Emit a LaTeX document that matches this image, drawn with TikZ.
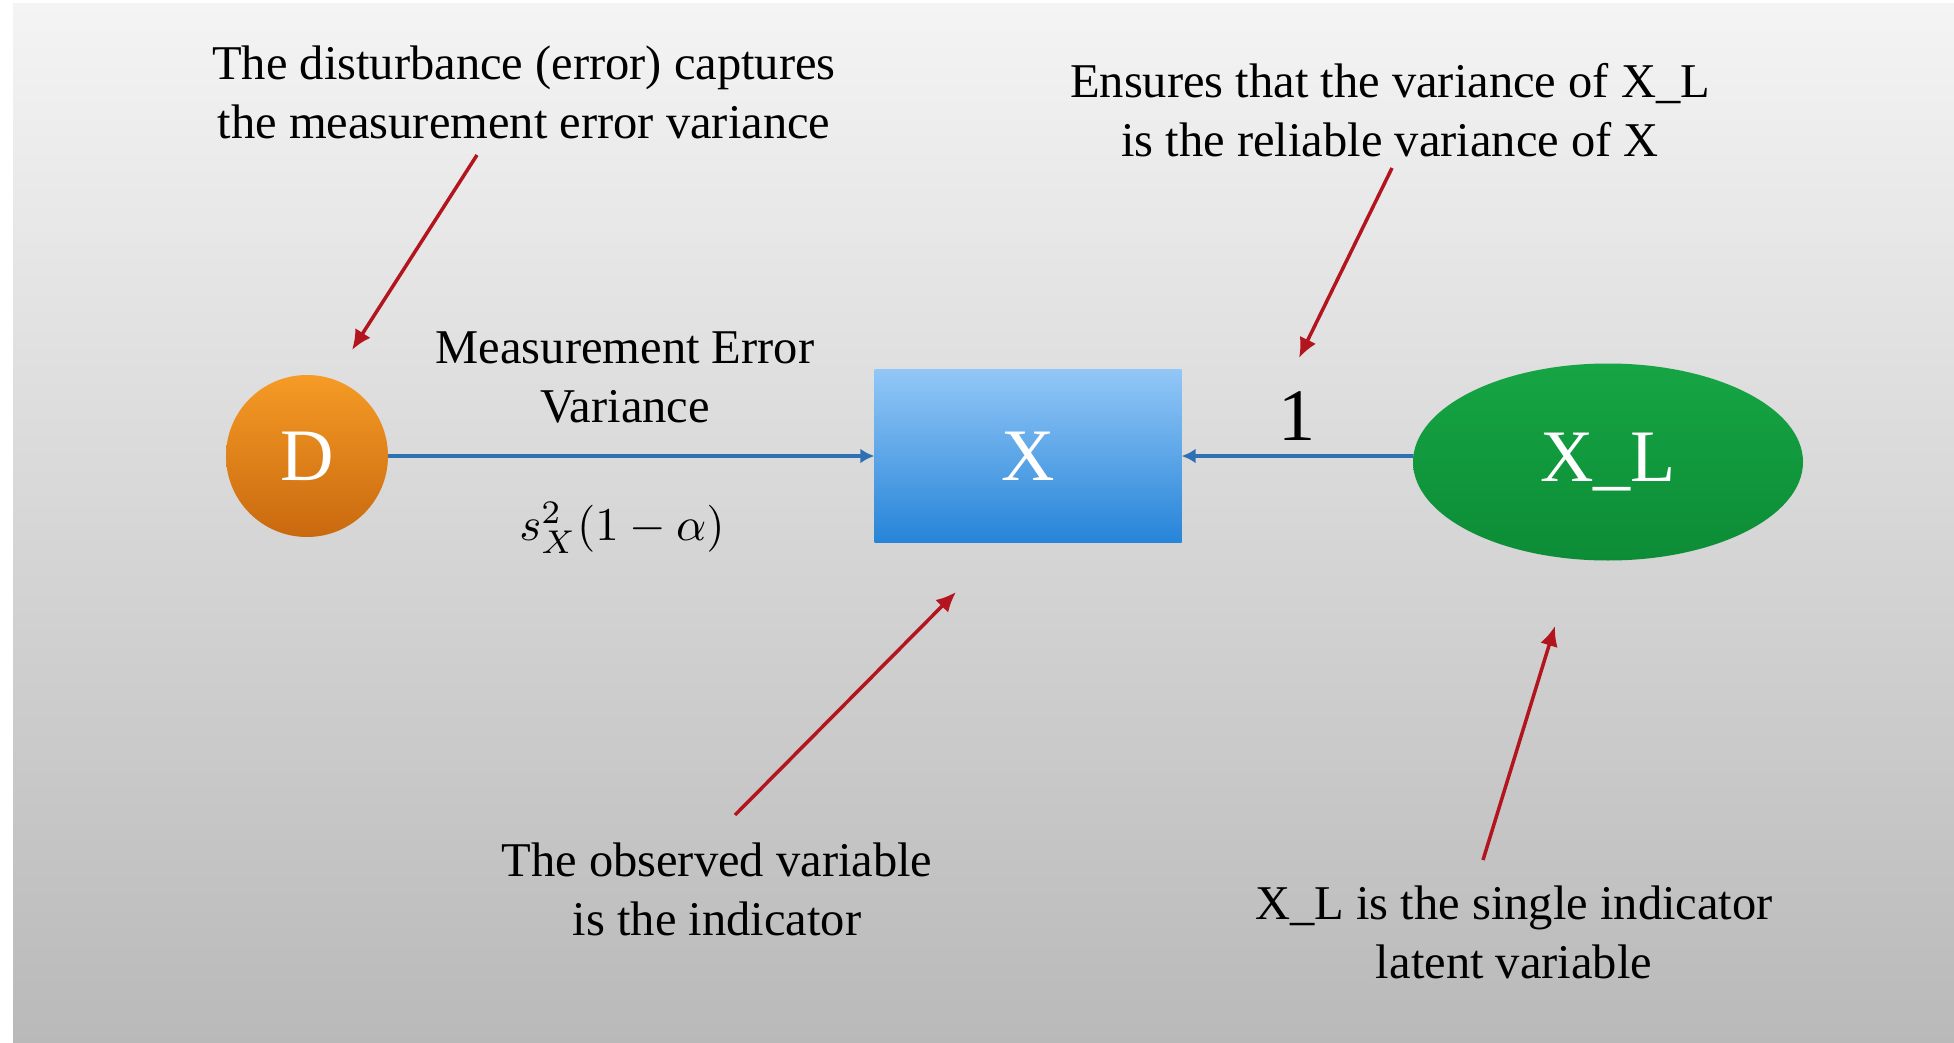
\documentclass[tikz,border=0pt]{standalone}
\usepackage{fontspec}
\setmainfont{Liberation Serif}
\usetikzlibrary{arrows.meta,shapes.geometric,shadings}
\definecolor{bgtop}{HTML}{F4F4F4}
\definecolor{bgmid}{HTML}{E1E1E1}
\definecolor{bgbot}{HTML}{B9B9B9}
\definecolor{dtop}{HTML}{F59B25}
\definecolor{dbot}{HTML}{C9690F}
\definecolor{xtop}{HTML}{92C7F7}
\definecolor{xbot}{HTML}{2684D8}
\definecolor{lattop}{HTML}{16A544}
\definecolor{latbot}{HTML}{0C8C36}
\definecolor{linkblue}{HTML}{2F6FB3}
\definecolor{hintred}{HTML}{B3151F}
\begin{document}
\begin{tikzpicture}[x=1pt, y=-1pt,
  note/.style={align=center, font=\fontsize{48.5}{59}\selectfont},
  big/.style={text=white, font=\fontsize{74}{74}\selectfont},
  link/.style={draw=linkblue, line width=4.5pt, -{Latex[length=14pt,width=15pt]}},
  hint/.style={draw=hintred, line width=3.5pt, -{Latex[length=20pt,width=18pt]}}]
  \useasboundingbox (0,0) rectangle (1954,1043);
  \fill[white] (0,0) rectangle (1954,1043);
  \shade[top color=bgtop, middle color=bgmid, bottom color=bgbot] (13,4) rectangle (1954,1043);

  % variables
  \node[circle, big, minimum size=162pt, inner sep=0pt,
        top color=dtop, bottom color=dbot] (D) at (307,456) {D};
  \node[rectangle, big, minimum width=307pt, minimum height=173pt,
        top color=xtop, bottom color=xbot] (X) at (1028,456) {X};
  \node[ellipse, big, minimum width=390pt, minimum height=197pt, inner sep=0pt,
        top color=lattop, bottom color=latbot] (XL) at (1608,462) {X\_L};

  \draw[link] (D) -- (X);
  \draw[link] (XL.west |- X.east) -- (X.east);

  \node[note] (mev) at (625,377) {Measurement Error\\Variance};
  \node[scale=4.7] (ratio) at (622,528) {$s_X^2(1-\alpha)$};
  \node[font=\fontsize{74}{74}\selectfont] (one) at (1297,416) {1};

  % notes
  \node[note] (t1) at (524,92) {The disturbance (error) captures\\the measurement error variance};
  \node[note] (t2) at (1390,110) {Ensures that the variance of X\_L\\is the reliable variance of X};
  \node[note] (t3) at (717,889) {The observed variable\\is the indicator};
  \node[note] (t4) at (1514,932) {X\_L is the single indicator\\latent variable};

  \coordinate (a1) at (477,155);
  \coordinate (b1) at (352,350);
  \coordinate (a2) at (1392,168);
  \coordinate (b2) at (1299,358);
  \coordinate (a3) at (735,815);
  \coordinate (b3) at (956,592);
  \coordinate (a4) at (1483,860);
  \coordinate (b4) at (1555,626);

  \draw[hint] (a1) -- (b1);
  \draw[hint] (a2) -- (b2);
  \draw[hint] (a3) -- (b3);
  \draw[hint] (a4) -- (b4);
\end{tikzpicture}
\end{document}
